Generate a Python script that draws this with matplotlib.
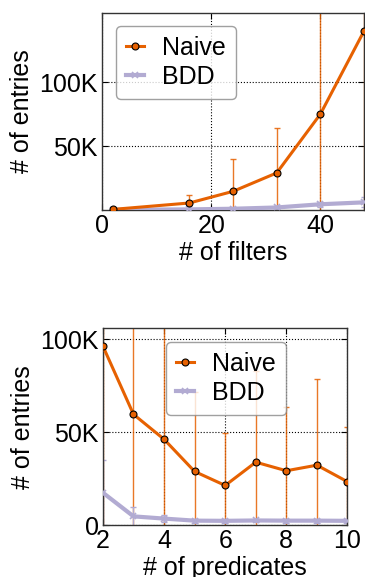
import matplotlib
matplotlib.use("Agg")
import matplotlib.pyplot as plt
from matplotlib.ticker import FuncFormatter

plt.rcParams['font.family'] = ['Liberation Sans', 'DejaVu Sans']
plt.rcParams['font.size'] = 18

NAIVE_COLOR = '#e66101'
BDD_COLOR = '#b2abd2'

# top panel: entries vs number of filters
filters = [2, 16, 24, 32, 40, 48]
naive_filters = [500, 5500, 14600, 29000, 75000, 140000]
naive_filters_err = [300, 6200, 25400, 35000, 95000, 150000]
bdd_filters = [200, 500, 1000, 2000, 4500, 6000]
bdd_filters_err = [100, 300, 600, 1000, 2000, 4000]

# bottom panel: entries vs number of predicates
predicates = [2, 3, 4, 5, 6, 7, 8, 9, 10]
naive_preds = [96200, 59600, 46200, 28900, 21400, 33900, 29300, 32300, 23400]
naive_preds_err = [100000, 70000, 65000, 42900, 28200, 48800, 34300, 46300, 29300]
bdd_preds = [17500, 4800, 3600, 2500, 2400, 2600, 2500, 2500, 2400]
bdd_preds_err = [17500, 5200, 1900, 1000, 1000, 1000, 1000, 1000, 1000]


def kfmt(v, pos):
    if v == 0:
        return '0'
    return '%dK' % int(round(v / 1000))


def style_axes(ax):
    ax.grid(True, linestyle=':', color='black', linewidth=0.8)
    ax.tick_params(direction='in', top=True, right=True, length=4, pad=3)
    for s in ax.spines.values():
        s.set_color('#333333')
        s.set_linewidth(1.0)
    ax.yaxis.set_major_formatter(FuncFormatter(kfmt))


def draw(ax, x, naive, naive_err, bdd, bdd_err):
    # error bars first, lines with markers on top
    ax.errorbar(x, naive, yerr=naive_err, fmt='none', ecolor=NAIVE_COLOR,
                elinewidth=1, capsize=2, alpha=0.85, zorder=2)
    ax.errorbar(x, bdd, yerr=bdd_err, fmt='none', ecolor=BDD_COLOR,
                elinewidth=1, capsize=2, zorder=2)
    ax.plot(x, naive, color=NAIVE_COLOR, lw=2.2, marker='o', markersize=5,
            markerfacecolor=NAIVE_COLOR, markeredgecolor='black',
            markeredgewidth=0.8, label='Naive', zorder=4)
    ax.plot(x, bdd, color=BDD_COLOR, lw=3, marker='x', markersize=5,
            markeredgewidth=1.2, label='BDD', zorder=3)


def add_legend(ax, x0, y0):
    leg = ax.legend(loc='upper left', bbox_to_anchor=(x0, y0),
                    borderaxespad=0, handlelength=0.75, handletextpad=0.7,
                    labelspacing=0.2, borderpad=0.4, fancybox=True)
    leg.get_frame().set_edgecolor('#888888')


fig = plt.figure(figsize=(3.65, 5.77), dpi=100)

ax1 = fig.add_axes([0.2795, 0.636, 0.718, 0.3415])
draw(ax1, filters, naive_filters, naive_filters_err, bdd_filters, bdd_filters_err)
ax1.set_xlim(0, 48)
ax1.set_ylim(0, 154000)
ax1.set_xticks([0, 20, 40])
ax1.set_yticks([50000, 100000])
style_axes(ax1)
ax1.set_xlabel('# of filters', labelpad=2)
ax1.set_ylabel('# of entries')
add_legend(ax1, 0.052, 0.934)

ax2 = fig.add_axes([0.282, 0.0896, 0.670, 0.342])
draw(ax2, predicates, naive_preds, naive_preds_err, bdd_preds, bdd_preds_err)
ax2.set_xlim(2, 10)
ax2.set_ylim(0, 106000)
ax2.set_xticks([2, 4, 6, 8, 10])
ax2.set_yticks([0, 50000, 100000])
style_axes(ax2)
ax2.set_xlabel('# of predicates', labelpad=2)
ax2.set_ylabel('# of entries')
add_legend(ax2, 0.256, 0.93)

fig.savefig('out.png', dpi=100)
